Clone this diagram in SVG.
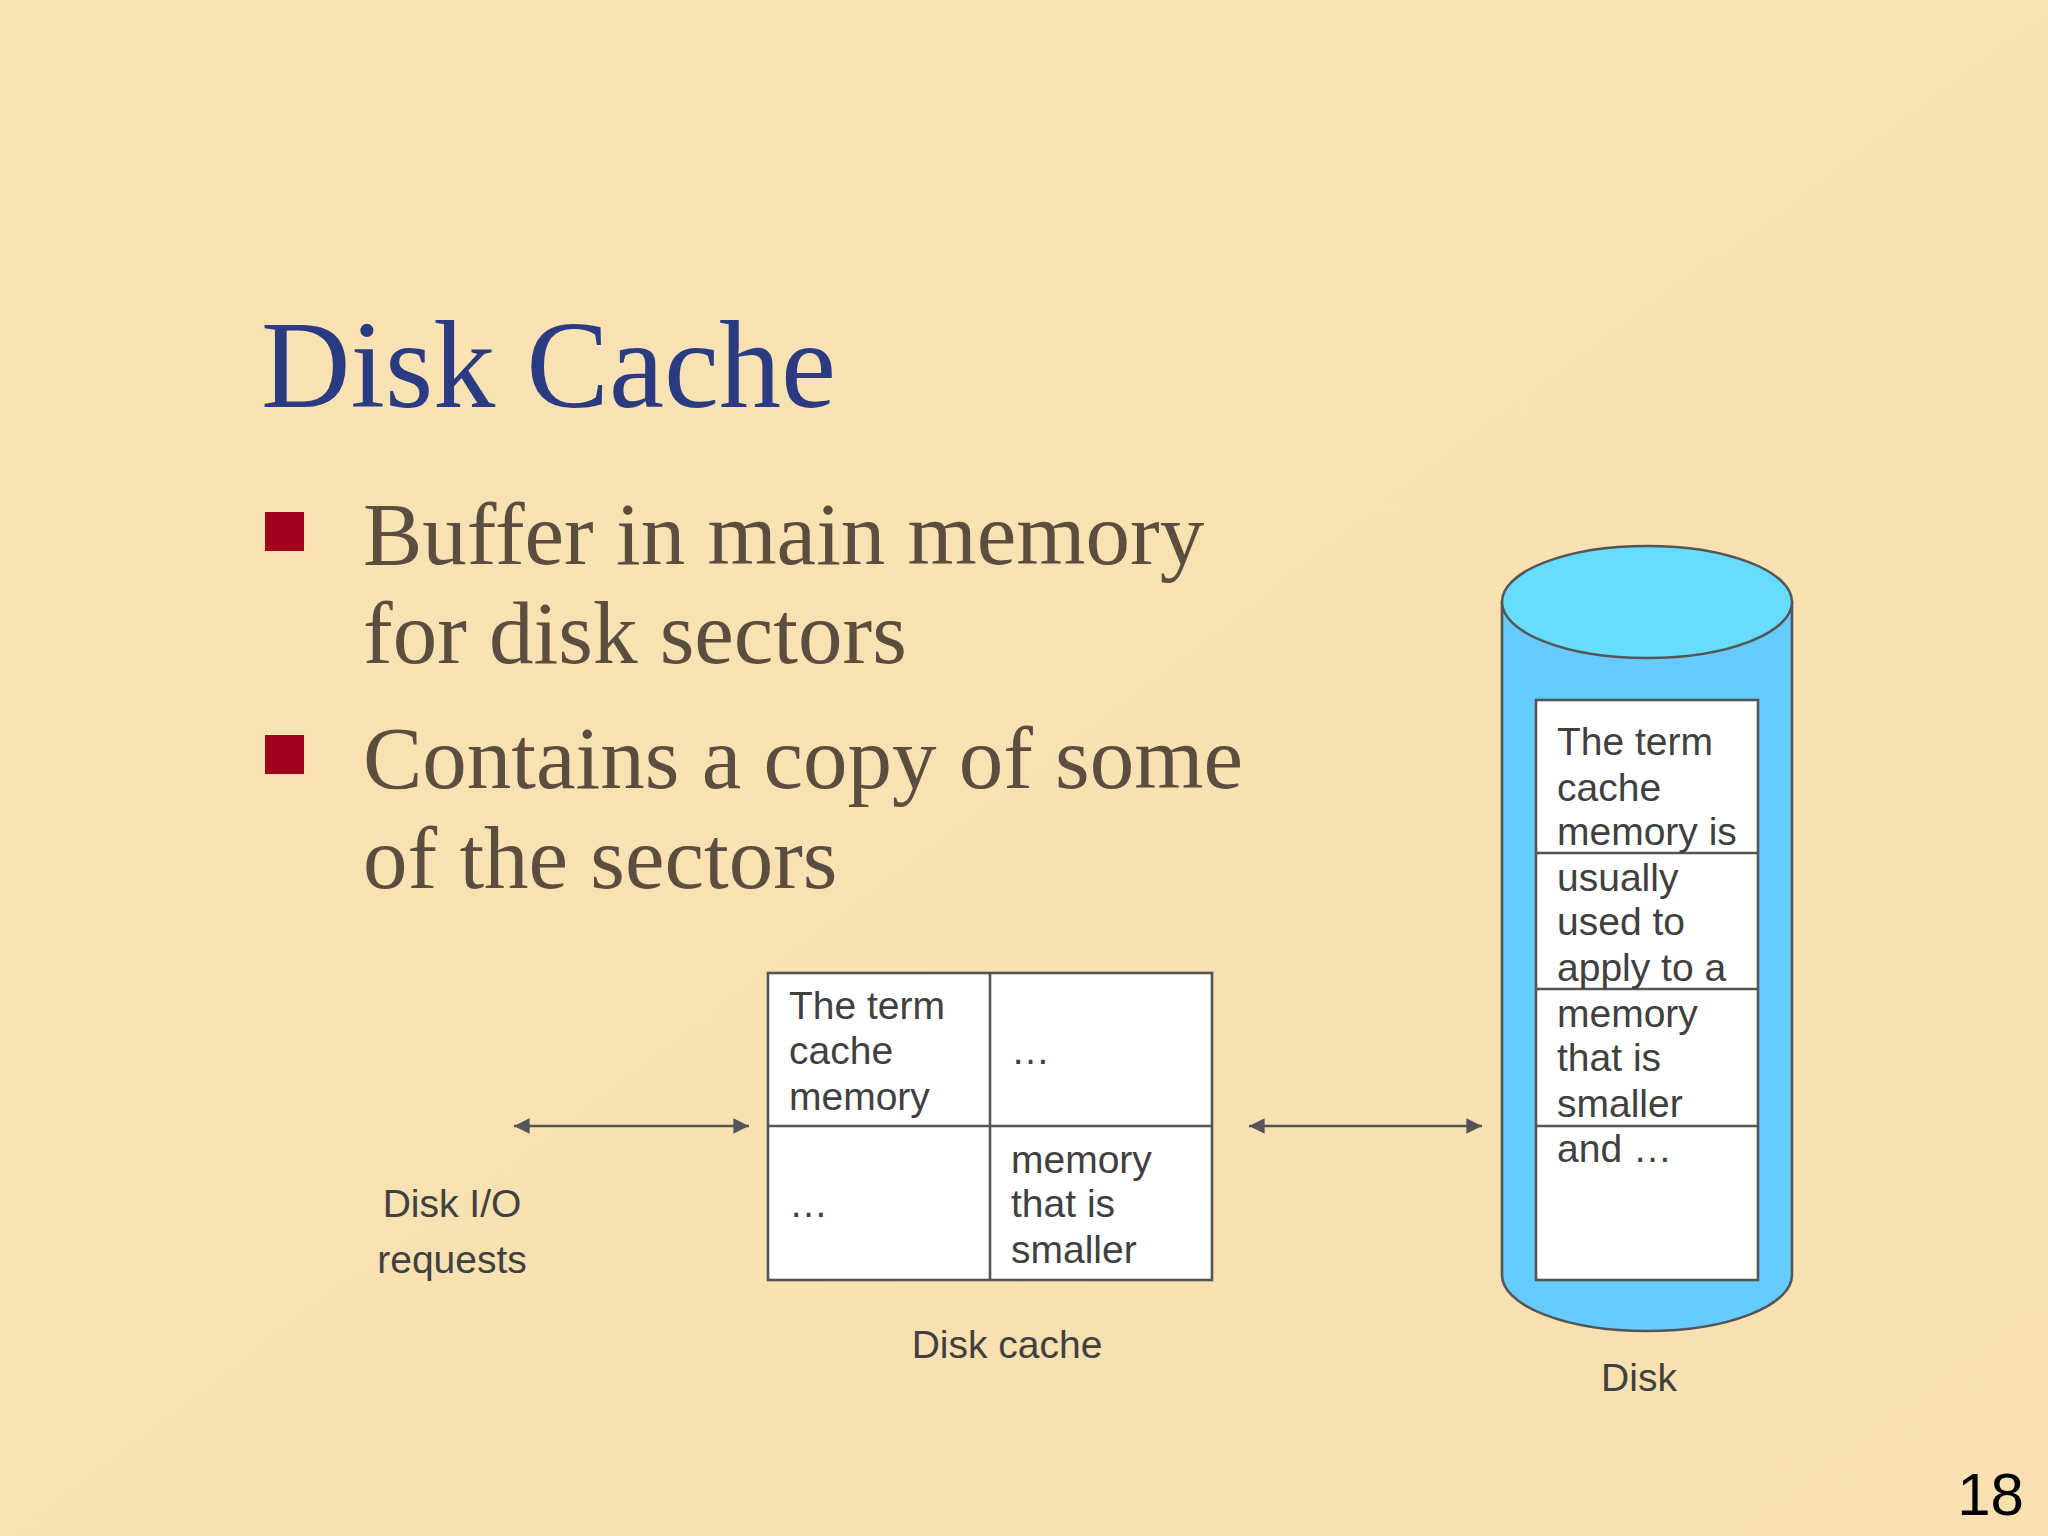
<svg xmlns="http://www.w3.org/2000/svg" width="2048" height="1536" viewBox="0 0 2048 1536">
<style>
.s{font-family:"Liberation Sans",Arial,sans-serif;font-size:39px;fill:#404040}
.b{font-family:"Liberation Serif","Times New Roman",serif;font-size:89px;fill:#5C4E3E}
.box{fill:#fff;stroke:#555;stroke-width:2.6}
.ln{stroke:#555;stroke-width:2.6;fill:none}
</style>
<defs>
<linearGradient id="bg" x1="0" y1="0" x2="1" y2="1"><stop offset="0" stop-color="#F9E2B4"/><stop offset="1" stop-color="#F8E0B0"/></linearGradient>
<marker id="a" viewBox="0 0 10 10" refX="10" refY="5" markerWidth="6" markerHeight="6" orient="auto-start-reverse"><path d="M0,0L10,5L0,10z" fill="#555"/></marker>
</defs>
<rect width="2048" height="1536" fill="url(#bg)"/>
<text x="261" y="407" font-family="Liberation Serif,serif" font-size="124" fill="#2B3B82">Disk Cache</text>
<rect x="265" y="512" width="39" height="39" fill="#A0001C"/>
<rect x="265" y="735" width="39" height="39" fill="#A0001C"/>
<text class="b" x="363" y="564">Buffer in main memory</text>
<text class="b" x="363" y="663">for disk sectors</text>
<text class="b" x="363" y="788">Contains a copy of some</text>
<text class="b" x="363" y="888">of the sectors</text>
<g id="connectors">
<line class="ln" x1="514" y1="1126" x2="749" y2="1126" marker-start="url(#a)" marker-end="url(#a)"/>
<line class="ln" x1="1249" y1="1126" x2="1482" y2="1126" marker-start="url(#a)" marker-end="url(#a)"/>
</g>
<g id="requests">
<text class="s" x="452" y="1217" text-anchor="middle">Disk I/O</text>
<text class="s" x="452" y="1273" text-anchor="middle">requests</text>
</g>
<g id="diskcache">
<rect class="box" x="768" y="973" width="444" height="307"/>
<line class="ln" x1="990" y1="973" x2="990" y2="1280"/>
<line class="ln" x1="768" y1="1126" x2="1212" y2="1126"/>
<text class="s" x="789" y="1019">The term</text>
<text class="s" x="789" y="1064">cache</text>
<text class="s" x="789" y="1110">memory</text>
<text class="s" x="1011" y="1064">…</text>
<text class="s" x="789" y="1217">…</text>
<text class="s" x="1011" y="1173">memory</text>
<text class="s" x="1011" y="1217">that is</text>
<text class="s" x="1011" y="1263">smaller</text>
<text class="s" x="1007" y="1358" text-anchor="middle">Disk cache</text>
</g>
<g id="disk">
<path d="M1502,602 L1502,1275 A145,56 0 0 0 1792,1275 L1792,602 Z" fill="#66CCFF" stroke="#555" stroke-width="2.6"/>
<ellipse cx="1647" cy="602" rx="145" ry="56" fill="#66DDFF" stroke="#555" stroke-width="2.6"/>
<rect class="box" x="1536" y="700" width="222" height="580"/>
<line class="ln" x1="1536" y1="853" x2="1758" y2="853"/>
<line class="ln" x1="1536" y1="989" x2="1758" y2="989"/>
<line class="ln" x1="1536" y1="1126" x2="1758" y2="1126"/>
<text class="s" x="1557" y="755">The term</text>
<text class="s" x="1557" y="801">cache</text>
<text class="s" x="1557" y="845">memory is</text>
<text class="s" x="1557" y="891">usually</text>
<text class="s" x="1557" y="935">used to</text>
<text class="s" x="1557" y="981">apply to a</text>
<text class="s" x="1557" y="1027">memory</text>
<text class="s" x="1557" y="1071">that is</text>
<text class="s" x="1557" y="1117">smaller</text>
<text class="s" x="1557" y="1162">and …</text>
<text class="s" x="1639" y="1391" text-anchor="middle">Disk</text>
</g>
<text x="2024" y="1515" text-anchor="end" font-family="Liberation Sans,sans-serif" font-size="60" fill="#000">18</text>
</svg>
